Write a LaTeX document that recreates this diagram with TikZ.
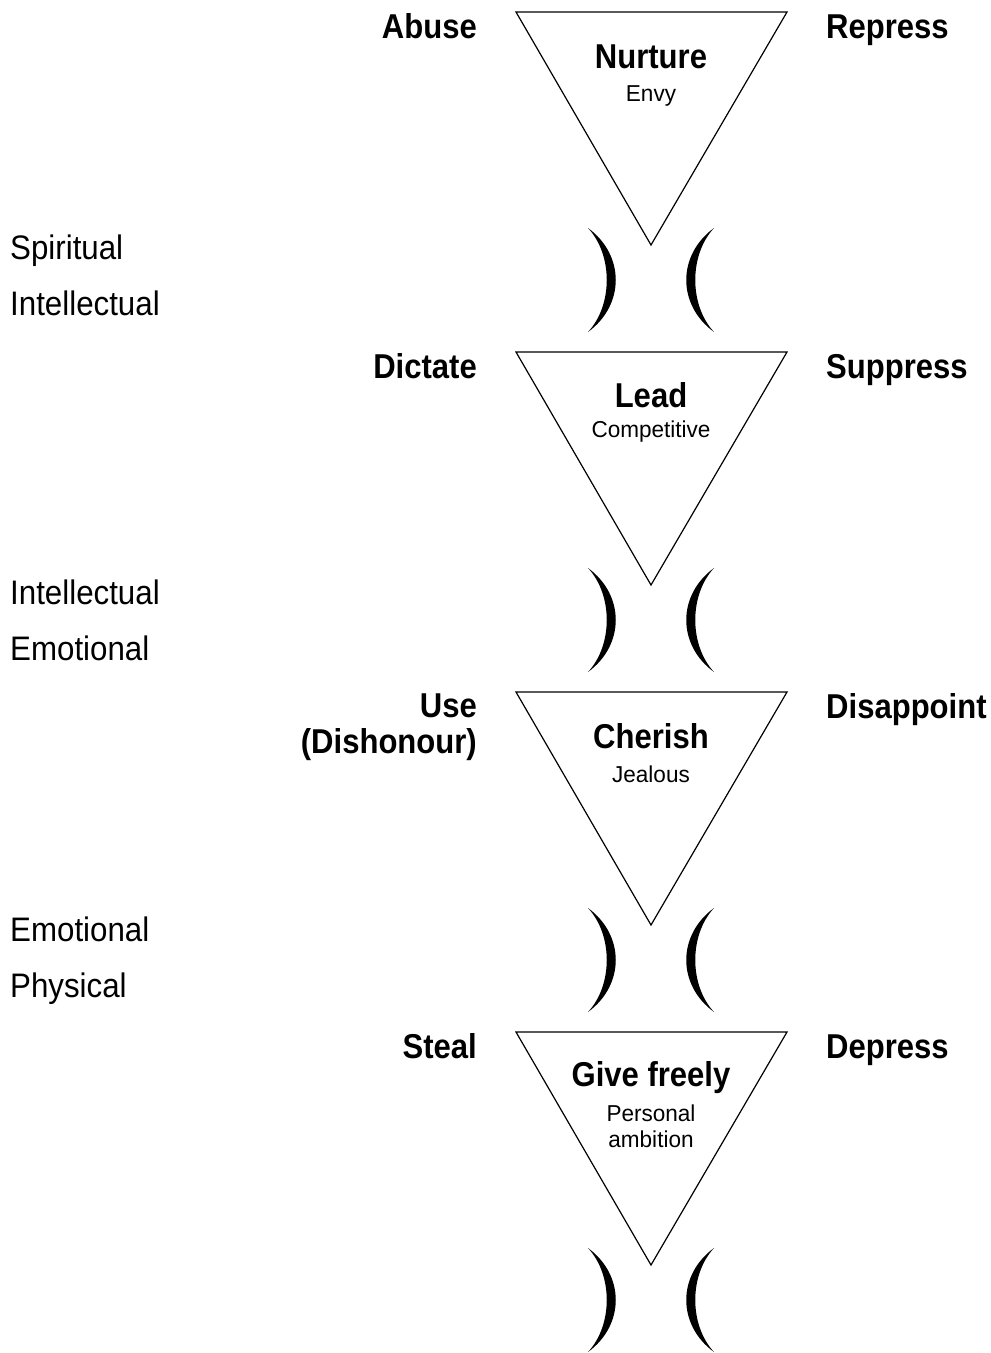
\documentclass[tikz,border=0pt]{standalone}
\usepackage{fontspec}
\setmainfont{Liberation Sans}
\newfontfamily\boldcn[FakeStretch=0.9]{Liberation Sans}
\newfontfamily\plaincn[FakeStretch=0.92]{Liberation Sans}
\newfontfamily\smallcn[FakeStretch=0.98]{Liberation Sans}

\begin{document}
\begin{tikzpicture}
        [x=1pt, y=-1pt, every node/.style={inner sep=0},
         side/.style={font=\boldcn\bfseries\fontsize{34.5}{36}\selectfont},
         title/.style={anchor=base, font=\boldcn\bfseries\fontsize{34.5}{36}\selectfont},
         sub/.style={anchor=base, font=\smallcn\fontsize{23}{26}\selectfont},
         level/.style={anchor=base west, font=\plaincn\fontsize{34}{40}\selectfont},
         funnel/.style={line width=1.2pt, black}]

        \useasboundingbox (0,0) rectangle (991,1353);

        % funnels and brackets
        \foreach \t in {0,340,680,1020} {
          \draw[funnel] (516,12+\t) -- (787,12+\t) -- (651,245+\t) -- cycle;
          \fill (588,228+\t) .. controls (625,255+\t) and (625,305+\t) .. (588,332+\t)
                .. controls (613,305+\t) and (613,255+\t) .. (588,228+\t);
          \fill (714,228+\t) .. controls (677,255+\t) and (677,305+\t) .. (714,332+\t)
                .. controls (689,305+\t) and (689,255+\t) .. (714,228+\t);
        }

        \node[side, anchor=base east] (abuse) at (477,38) {Abuse};
        \node[side, anchor=base west] (repress) at (826,38) {Repress};
        \node[title] (nurture) at (651,68) {Nurture};
        \node[sub] (envy) at (651,101) {Envy};

        \node[level] (spiritual1) at (10,259) {Spiritual};
        \node[level] (intellectual1) at (10,315) {Intellectual};

        \node[side, anchor=base east] (dictate) at (477,378) {Dictate};
        \node[side, anchor=base west] (suppress) at (826,378) {Suppress};
        \node[title] (lead) at (651,407) {Lead};
        \node[sub] (competitive) at (651,437) {Competitive};

        \node[level] (intellectual2) at (10,604) {Intellectual};
        \node[level] (emotional2) at (10,660) {Emotional};

        \node[side, anchor=base east] (use) at (477,717) {Use};
        \node[side, anchor=base east] (dishonour) at (477,753) {(Dishonour)};
        \node[side, anchor=base west] (disappoint) at (826,718) {Disappoint};
        \node[title] (cherish) at (651,748) {Cherish};
        \node[sub] (jealous) at (651,782) {Jealous};

        \node[level] (emotional3) at (10,941) {Emotional};
        \node[level] (physical3) at (10,997) {Physical};

        \node[side, anchor=base east] (steal) at (477,1058) {Steal};
        \node[side, anchor=base west] (depress) at (826,1058) {Depress};
        \node[title] (givefreely) at (651,1086) {Give freely};
        \node[sub] (personal) at (651,1121) {Personal};
        \node[sub] (ambition) at (651,1147) {ambition};
\end{tikzpicture}
\end{document}
